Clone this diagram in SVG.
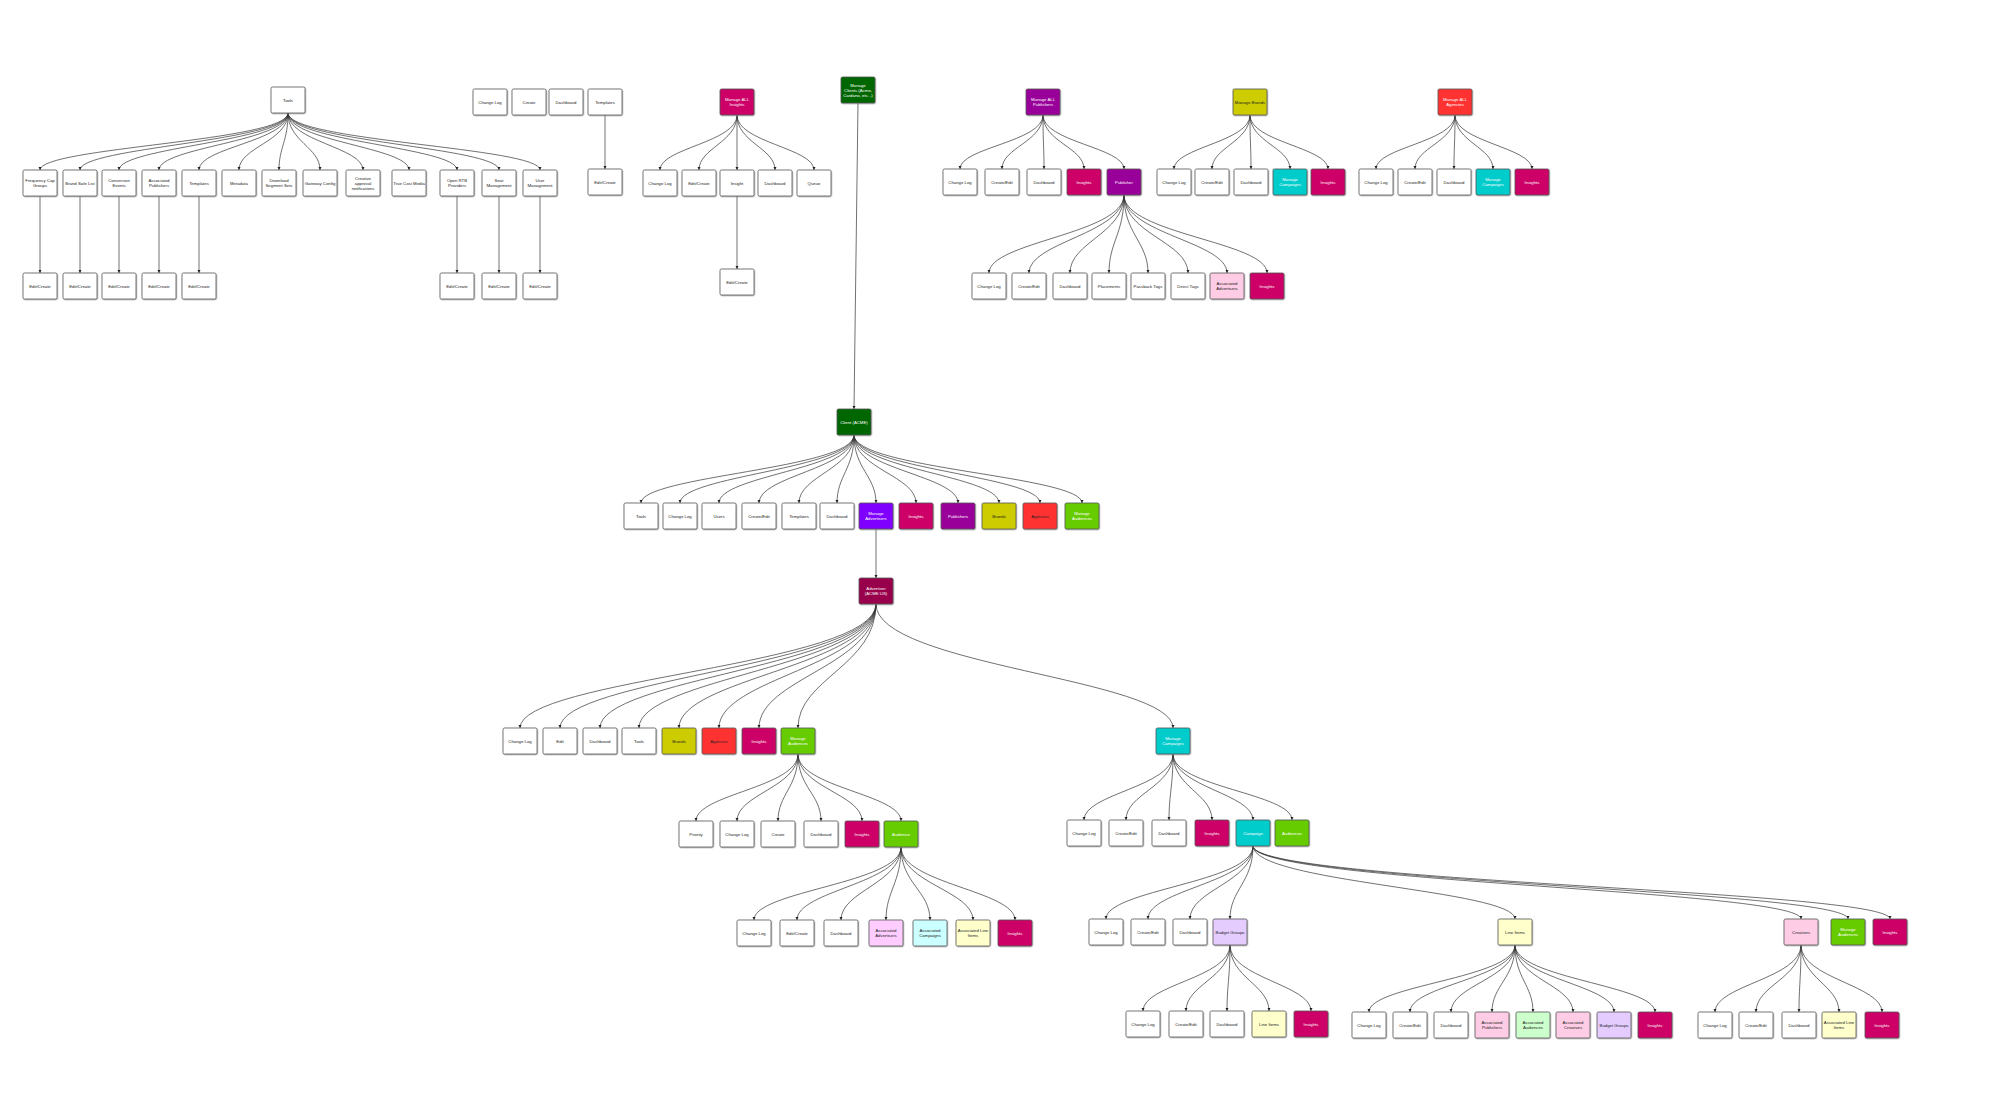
<svg xmlns="http://www.w3.org/2000/svg" width="2000" height="1115" viewBox="0 0 2000 1115">
<defs>
<marker id="ar" viewBox="0 0 6 6" refX="6" refY="3" markerWidth="3.2" markerHeight="3.2" markerUnits="userSpaceOnUse" orient="auto"><path d="M0,0 L6,3 L0,6 z" fill="#222"/></marker>
<filter id="sh" x="-10%" y="-10%" width="130%" height="130%"><feDropShadow dx="0.6" dy="0.8" stdDeviation="0.3" flood-color="#888" flood-opacity="0.7"/></filter>
</defs>
<style>
rect{stroke:#555;stroke-width:0.8;filter:url(#sh)}
.b{fill:#fff}.mag{fill:#cc0066}.pur{fill:#990099}.dg{fill:#006600}.vio{fill:#7f00ff}.mar{fill:#99004c}
.yel{fill:#cccc00}.red{fill:#ff3333}.grn{fill:#66cc00}.cy{fill:#00cccc}
.lpk{fill:#ffcce6}.lpk2{fill:#ffccff}.lcy{fill:#ccffff}.lyl{fill:#ffffcc}.lgr{fill:#ccffcc}.lav{fill:#e5ccff}
text{font-family:"Liberation Sans",Arial,sans-serif;font-size:4.3px;text-anchor:middle;fill:#222}
text.w{fill:#fff}
.e path{fill:none;stroke:#333;stroke-width:0.7;marker-end:url(#ar)}
</style>
<rect x="0" y="0" width="2000" height="1115" fill="#fff" style="stroke:none;filter:none"/>

<g class="e" id="connectors">
<!-- Tools -->
<path d="M288 113 C288 141.5 40 147.2 40 170"/>
<path d="M288 113 C288 141.5 80 147.2 80 170"/>
<path d="M288 113 C288 141.5 119 147.2 119 170"/>
<path d="M288 113 C288 141.5 159 147.2 159 170"/>
<path d="M288 113 C288 141.5 199 147.2 199 170"/>
<path d="M288 113 C288 141.5 239 147.2 239 170"/>
<path d="M288 113 C288 141.5 279 147.2 279 170"/>
<path d="M288 113 C288 141.5 320 147.2 320 170"/>
<path d="M288 113 C288 141.5 363 147.2 363 170"/>
<path d="M288 113 C288 141.5 409 147.2 409 170"/>
<path d="M288 113 C288 141.5 457 147.2 457 170"/>
<path d="M288 113 C288 141.5 499 147.2 499 170"/>
<path d="M288 113 C288 141.5 540 147.2 540 170"/>
<path d="M40 196 L40 273"/>
<path d="M80 196 L80 273"/>
<path d="M119 196 L119 273"/>
<path d="M159 196 L159 273"/>
<path d="M199 196 L199 273"/>
<path d="M457 196 L457 273"/>
<path d="M499 196 L499 273"/>
<path d="M540 196 L540 273"/>
<path d="M605 115 L605 169"/>
<!-- Manage ALL Insights -->
<path d="M737 115 C737 142.5 660 148 660 170"/>
<path d="M737 115 C737 142.5 699 148 699 170"/>
<path d="M737 115 C737 142.5 737 148 737 170"/>
<path d="M737 115 C737 142.5 775 148 775 170"/>
<path d="M737 115 C737 142.5 814 148 814 170"/>
<path d="M737 196 L737 269"/>
<!-- Manage Clients -> Client -->
<path d="M858 103 L854 409"/>
<!-- Manage ALL Publishers -->
<path d="M1043 115 C1043 142 960 147.4 960 169"/>
<path d="M1043 115 C1043 142 1002 147.4 1002 169"/>
<path d="M1043 115 C1043 142 1044 147.4 1044 169"/>
<path d="M1043 115 C1043 142 1084 147.4 1084 169"/>
<path d="M1043 115 C1043 142 1124 147.4 1124 169"/>
<!-- Publisher -->
<path d="M1124 195 C1124 234 989 241.8 989 273"/>
<path d="M1124 195 C1124 234 1029 241.8 1029 273"/>
<path d="M1124 195 C1124 234 1070 241.8 1070 273"/>
<path d="M1124 195 C1124 234 1109 241.8 1109 273"/>
<path d="M1124 195 C1124 234 1148 241.8 1148 273"/>
<path d="M1124 195 C1124 234 1188 241.8 1188 273"/>
<path d="M1124 195 C1124 234 1227 241.8 1227 273"/>
<path d="M1124 195 C1124 234 1267 241.8 1267 273"/>
<!-- Manage Brands -->
<path d="M1250 115 C1250 142 1174 147.4 1174 169"/>
<path d="M1250 115 C1250 142 1212 147.4 1212 169"/>
<path d="M1250 115 C1250 142 1251 147.4 1251 169"/>
<path d="M1250 115 C1250 142 1290 147.4 1290 169"/>
<path d="M1250 115 C1250 142 1328 147.4 1328 169"/>
<!-- Manage ALL Agencies -->
<path d="M1455 115 C1455 142 1376 147.4 1376 169"/>
<path d="M1455 115 C1455 142 1415 147.4 1415 169"/>
<path d="M1455 115 C1455 142 1454 147.4 1454 169"/>
<path d="M1455 115 C1455 142 1493 147.4 1493 169"/>
<path d="M1455 115 C1455 142 1532 147.4 1532 169"/>
<!-- Client -->
<path d="M854 435 C854 469 641 475.8 641 503"/>
<path d="M854 435 C854 469 680 475.8 680 503"/>
<path d="M854 435 C854 469 719 475.8 719 503"/>
<path d="M854 435 C854 469 759 475.8 759 503"/>
<path d="M854 435 C854 469 799 475.8 799 503"/>
<path d="M854 435 C854 469 837 475.8 837 503"/>
<path d="M854 435 C854 469 876 475.8 876 503"/>
<path d="M854 435 C854 469 916 475.8 916 503"/>
<path d="M854 435 C854 469 958 475.8 958 503"/>
<path d="M854 435 C854 469 999 475.8 999 503"/>
<path d="M854 435 C854 469 1040 475.8 1040 503"/>
<path d="M854 435 C854 469 1082 475.8 1082 503"/>
<path d="M876 529 L876 578"/>
<!-- Advertiser -->
<path d="M876 604 C876 666 520 678.4 520 728"/>
<path d="M876 604 C876 666 560 678.4 560 728"/>
<path d="M876 604 C876 666 600 678.4 600 728"/>
<path d="M876 604 C876 666 639 678.4 639 728"/>
<path d="M876 604 C876 666 679 678.4 679 728"/>
<path d="M876 604 C876 666 719 678.4 719 728"/>
<path d="M876 604 C876 666 759 678.4 759 728"/>
<path d="M876 604 C876 666 798 678.4 798 728"/>
<path d="M876 604 C876 666 1173 678.4 1173 728"/>
<!-- Manage Audiences (advertiser) -->
<path d="M798 754 C798 787.5 696 794.2 696 821"/>
<path d="M798 754 C798 787.5 737 794.2 737 821"/>
<path d="M798 754 C798 787.5 778 794.2 778 821"/>
<path d="M798 754 C798 787.5 821 794.2 821 821"/>
<path d="M798 754 C798 787.5 862 794.2 862 821"/>
<path d="M798 754 C798 787.5 901 794.2 901 821"/>
<!-- Audience -->
<path d="M901 847 C901 883.5 754 890.8 754 920"/>
<path d="M901 847 C901 883.5 797 890.8 797 920"/>
<path d="M901 847 C901 883.5 841 890.8 841 920"/>
<path d="M901 847 C901 883.5 886 890.8 886 920"/>
<path d="M901 847 C901 883.5 930 890.8 930 920"/>
<path d="M901 847 C901 883.5 973 890.8 973 920"/>
<path d="M901 847 C901 883.5 1015 890.8 1015 920"/>
<!-- Manage Campaigns (advertiser) -->
<path d="M1173 754 C1173 787 1084 793.6 1084 820"/>
<path d="M1173 754 C1173 787 1126 793.6 1126 820"/>
<path d="M1173 754 C1173 787 1169 793.6 1169 820"/>
<path d="M1173 754 C1173 787 1212 793.6 1212 820"/>
<path d="M1173 754 C1173 787 1253 793.6 1253 820"/>
<path d="M1173 754 C1173 787 1292 793.6 1292 820"/>
<!-- Campaign -->
<path d="M1253 846 C1253 882.5 1106 889.8 1106 919"/>
<path d="M1253 846 C1253 882.5 1148 889.8 1148 919"/>
<path d="M1253 846 C1253 882.5 1190 889.8 1190 919"/>
<path d="M1253 846 C1253 882.5 1230 889.8 1230 919"/>
<path d="M1253 846 C1253 882.5 1515 889.8 1515 919"/>
<path d="M1253 846 C1253 882.5 1801 889.8 1801 919"/>
<path d="M1253 846 C1253 882.5 1848 889.8 1848 919"/>
<path d="M1253 846 C1253 882.5 1890 889.8 1890 919"/>
<!-- Budget Groups -->
<path d="M1230 945 C1230 978 1143 984.6 1143 1011"/>
<path d="M1230 945 C1230 978 1186 984.6 1186 1011"/>
<path d="M1230 945 C1230 978 1227 984.6 1227 1011"/>
<path d="M1230 945 C1230 978 1269 984.6 1269 1011"/>
<path d="M1230 945 C1230 978 1311 984.6 1311 1011"/>
<!-- Line Items -->
<path d="M1515 945 C1515 978.5 1369 985.2 1369 1012"/>
<path d="M1515 945 C1515 978.5 1410 985.2 1410 1012"/>
<path d="M1515 945 C1515 978.5 1451 985.2 1451 1012"/>
<path d="M1515 945 C1515 978.5 1492 985.2 1492 1012"/>
<path d="M1515 945 C1515 978.5 1533 985.2 1533 1012"/>
<path d="M1515 945 C1515 978.5 1573 985.2 1573 1012"/>
<path d="M1515 945 C1515 978.5 1614 985.2 1614 1012"/>
<path d="M1515 945 C1515 978.5 1655 985.2 1655 1012"/>
<!-- Creatives -->
<path d="M1801 945 C1801 978.5 1715 985.2 1715 1012"/>
<path d="M1801 945 C1801 978.5 1756 985.2 1756 1012"/>
<path d="M1801 945 C1801 978.5 1799 985.2 1799 1012"/>
<path d="M1801 945 C1801 978.5 1839 985.2 1839 1012"/>
<path d="M1801 945 C1801 978.5 1882 985.2 1882 1012"/>
</g>

<!-- ===== Tools tree ===== -->
<g id="n-tools"><rect class="b" x="271" y="87" width="34" height="26" rx="1.5"/><text x="288" y="101.5">Tools</text></g>
<g id="n-freq"><rect class="b" x="23" y="170" width="34" height="26" rx="1.5"/><text x="40" y="183"><tspan x="40" dy="-1">Frequency Cap</tspan><tspan x="40" dy="5">Groups</tspan></text></g>
<g id="n-brandsafe"><rect class="b" x="63" y="170" width="34" height="26" rx="1.5"/><text x="80" y="184.5">Brand Safe List</text></g>
<g id="n-conv"><rect class="b" x="102" y="170" width="34" height="26" rx="1.5"/><text x="119" y="183"><tspan x="119" dy="-1">Conversion</tspan><tspan x="119" dy="5">Events</tspan></text></g>
<g id="n-assocpub"><rect class="b" x="142" y="170" width="34" height="26" rx="1.5"/><text x="159" y="183"><tspan x="159" dy="-1">Associated</tspan><tspan x="159" dy="5">Publishers</tspan></text></g>
<g id="n-templ"><rect class="b" x="182" y="170" width="34" height="26" rx="1.5"/><text x="199" y="184.5">Templates</text></g>
<g id="n-meta"><rect class="b" x="222" y="170" width="34" height="26" rx="1.5"/><text x="239" y="184.5">Metadata</text></g>
<g id="n-dss"><rect class="b" x="262" y="170" width="34" height="26" rx="1.5"/><text x="279" y="183"><tspan x="279" dy="-1">Download</tspan><tspan x="279" dy="5">Segment Sets</tspan></text></g>
<g id="n-gw"><rect class="b" x="303" y="170" width="34" height="26" rx="1.5"/><text x="320" y="184.5">Gateway Config</text></g>
<g id="n-cran"><rect class="b" x="346" y="170" width="34" height="26" rx="1.5"/><text x="363" y="183"><tspan x="363" dy="-3.5">Creative</tspan><tspan x="363" dy="5">approval</tspan><tspan x="363" dy="5">notifications</tspan></text></g>
<g id="n-tcm"><rect class="b" x="392" y="170" width="34" height="26" rx="1.5"/><text x="409" y="184.5">True Cost Media</text></g>
<g id="n-ortb"><rect class="b" x="440" y="170" width="34" height="26" rx="1.5"/><text x="457" y="183"><tspan x="457" dy="-1">Open RTB</tspan><tspan x="457" dy="5">Providers</tspan></text></g>
<g id="n-seat"><rect class="b" x="482" y="170" width="34" height="26" rx="1.5"/><text x="499" y="183"><tspan x="499" dy="-1">Seat</tspan><tspan x="499" dy="5">Management</tspan></text></g>
<g id="n-user"><rect class="b" x="523" y="170" width="34" height="26" rx="1.5"/><text x="540" y="183"><tspan x="540" dy="-1">User</tspan><tspan x="540" dy="5">Management</tspan></text></g>
<g id="n-freq-ec"><rect class="b" x="23" y="273" width="34" height="26" rx="1.5"/><text x="40" y="287.5">Edit/Create</text></g>
<g id="n-brandsafe-ec"><rect class="b" x="63" y="273" width="34" height="26" rx="1.5"/><text x="80" y="287.5">Edit/Create</text></g>
<g id="n-conv-ec"><rect class="b" x="102" y="273" width="34" height="26" rx="1.5"/><text x="119" y="287.5">Edit/Create</text></g>
<g id="n-assocpub-ec"><rect class="b" x="142" y="273" width="34" height="26" rx="1.5"/><text x="159" y="287.5">Edit/Create</text></g>
<g id="n-templ-ec"><rect class="b" x="182" y="273" width="34" height="26" rx="1.5"/><text x="199" y="287.5">Edit/Create</text></g>
<g id="n-ortb-ec"><rect class="b" x="440" y="273" width="34" height="26" rx="1.5"/><text x="457" y="287.5">Edit/Create</text></g>
<g id="n-seat-ec"><rect class="b" x="482" y="273" width="34" height="26" rx="1.5"/><text x="499" y="287.5">Edit/Create</text></g>
<g id="n-user-ec"><rect class="b" x="523" y="273" width="34" height="26" rx="1.5"/><text x="540" y="287.5">Edit/Create</text></g>

<!-- ===== standalone top ===== -->
<g id="n-top-cl"><rect class="b" x="473" y="89" width="34" height="26" rx="1.5"/><text x="490" y="103.5">Change Log</text></g>
<g id="n-top-create"><rect class="b" x="512" y="89" width="34" height="26" rx="1.5"/><text x="529" y="103.5">Create</text></g>
<g id="n-top-dash"><rect class="b" x="549" y="89" width="34" height="26" rx="1.5"/><text x="566" y="103.5">Dashboard</text></g>
<g id="n-top-templates"><rect class="b" x="588" y="89" width="34" height="26" rx="1.5"/><text x="605" y="103.5">Templates</text></g>
<g id="n-top-templates-ec"><rect class="b" x="588" y="169" width="34" height="26" rx="1.5"/><text x="605" y="183.5">Edit/Create</text></g>

<!-- ===== Manage ALL Insights ===== -->
<g id="n-mai"><rect class="mag" x="720" y="89" width="34" height="26" rx="1.5"/><text class="w" x="737" y="102"><tspan x="737" dy="-1">Manage ALL</tspan><tspan x="737" dy="5">Insights</tspan></text></g>
<g id="n-mai-cl"><rect class="b" x="643" y="170" width="34" height="26" rx="1.5"/><text x="660" y="184.5">Change Log</text></g>
<g id="n-mai-ec"><rect class="b" x="682" y="170" width="34" height="26" rx="1.5"/><text x="699" y="184.5">Edit/Create</text></g>
<g id="n-mai-insight"><rect class="b" x="720" y="170" width="34" height="26" rx="1.5"/><text x="737" y="184.5">Insight</text></g>
<g id="n-mai-dash"><rect class="b" x="758" y="170" width="34" height="26" rx="1.5"/><text x="775" y="184.5">Dashboard</text></g>
<g id="n-mai-queue"><rect class="b" x="797" y="170" width="34" height="26" rx="1.5"/><text x="814" y="184.5">Queue</text></g>
<g id="n-mai-insight-ec"><rect class="b" x="720" y="269" width="34" height="26" rx="1.5"/><text x="737" y="283.5">Edit/Create</text></g>

<!-- ===== Manage Clients ===== -->
<g id="n-mclients"><rect class="dg" x="841" y="77" width="34" height="26" rx="1.5"/><text class="w" x="858" y="90"><tspan x="858" dy="-3.5">Manage</tspan><tspan x="858" dy="5">Clients (Acme,</tspan><tspan x="858" dy="5">Cardano, etc...)</tspan></text></g>

<!-- ===== Manage ALL Publishers ===== -->
<g id="n-map"><rect class="pur" x="1026" y="89" width="34" height="26" rx="1.5"/><text class="w" x="1043" y="102"><tspan x="1043" dy="-1">Manage ALL</tspan><tspan x="1043" dy="5">Publishers</tspan></text></g>
<g id="n-map-cl"><rect class="b" x="943" y="169" width="34" height="26" rx="1.5"/><text x="960" y="183.5">Change Log</text></g>
<g id="n-map-ce"><rect class="b" x="985" y="169" width="34" height="26" rx="1.5"/><text x="1002" y="183.5">Create/Edit</text></g>
<g id="n-map-dash"><rect class="b" x="1027" y="169" width="34" height="26" rx="1.5"/><text x="1044" y="183.5">Dashboard</text></g>
<g id="n-map-ins"><rect class="mag" x="1067" y="169" width="34" height="26" rx="1.5"/><text class="w" x="1084" y="183.5">Insights</text></g>
<g id="n-publisher"><rect class="pur" x="1107" y="169" width="34" height="26" rx="1.5"/><text class="w" x="1124" y="183.5">Publisher</text></g>
<g id="n-pub-cl"><rect class="b" x="972" y="273" width="34" height="26" rx="1.5"/><text x="989" y="287.5">Change Log</text></g>
<g id="n-pub-ce"><rect class="b" x="1012" y="273" width="34" height="26" rx="1.5"/><text x="1029" y="287.5">Create/Edit</text></g>
<g id="n-pub-dash"><rect class="b" x="1053" y="273" width="34" height="26" rx="1.5"/><text x="1070" y="287.5">Dashboard</text></g>
<g id="n-pub-plac"><rect class="b" x="1092" y="273" width="34" height="26" rx="1.5"/><text x="1109" y="287.5">Placements</text></g>
<g id="n-pub-pass"><rect class="b" x="1131" y="273" width="34" height="26" rx="1.5"/><text x="1148" y="287.5">Passback Tags</text></g>
<g id="n-pub-direct"><rect class="b" x="1171" y="273" width="34" height="26" rx="1.5"/><text x="1188" y="287.5">Direct Tags</text></g>
<g id="n-pub-assocadv"><rect class="lpk" x="1210" y="273" width="34" height="26" rx="1.5"/><text x="1227" y="286"><tspan x="1227" dy="-1">Associated</tspan><tspan x="1227" dy="5">Advertisers</tspan></text></g>
<g id="n-pub-ins"><rect class="mag" x="1250" y="273" width="34" height="26" rx="1.5"/><text class="w" x="1267" y="287.5">Insights</text></g>

<!-- ===== Manage Brands ===== -->
<g id="n-mb"><rect class="yel" x="1233" y="89" width="34" height="26" rx="1.5"/><text x="1250" y="103.5">Manage Brands</text></g>
<g id="n-mb-cl"><rect class="b" x="1157" y="169" width="34" height="26" rx="1.5"/><text x="1174" y="183.5">Change Log</text></g>
<g id="n-mb-ce"><rect class="b" x="1195" y="169" width="34" height="26" rx="1.5"/><text x="1212" y="183.5">Create/Edit</text></g>
<g id="n-mb-dash"><rect class="b" x="1234" y="169" width="34" height="26" rx="1.5"/><text x="1251" y="183.5">Dashboard</text></g>
<g id="n-mb-mc"><rect class="cy" x="1273" y="169" width="34" height="26" rx="1.5"/><text class="w" x="1290" y="182"><tspan x="1290" dy="-1">Manage</tspan><tspan x="1290" dy="5">Campaigns</tspan></text></g>
<g id="n-mb-ins"><rect class="mag" x="1311" y="169" width="34" height="26" rx="1.5"/><text class="w" x="1328" y="183.5">Insights</text></g>

<!-- ===== Manage ALL Agencies ===== -->
<g id="n-maa"><rect class="red" x="1438" y="89" width="34" height="26" rx="1.5"/><text class="w" x="1455" y="102"><tspan x="1455" dy="-1">Manage ALL</tspan><tspan x="1455" dy="5">Agencies</tspan></text></g>
<g id="n-maa-cl"><rect class="b" x="1359" y="169" width="34" height="26" rx="1.5"/><text x="1376" y="183.5">Change Log</text></g>
<g id="n-maa-ce"><rect class="b" x="1398" y="169" width="34" height="26" rx="1.5"/><text x="1415" y="183.5">Create/Edit</text></g>
<g id="n-maa-dash"><rect class="b" x="1437" y="169" width="34" height="26" rx="1.5"/><text x="1454" y="183.5">Dashboard</text></g>
<g id="n-maa-mc"><rect class="cy" x="1476" y="169" width="34" height="26" rx="1.5"/><text class="w" x="1493" y="182"><tspan x="1493" dy="-1">Manage</tspan><tspan x="1493" dy="5">Campaigns</tspan></text></g>
<g id="n-maa-ins"><rect class="mag" x="1515" y="169" width="34" height="26" rx="1.5"/><text class="w" x="1532" y="183.5">Insights</text></g>

<!-- ===== Client ===== -->
<g id="n-client"><rect class="dg" x="837" y="409" width="34" height="26" rx="1.5"/><text class="w" x="854" y="423.5">Client (ACME)</text></g>
<g id="n-cl-tools"><rect class="b" x="624" y="503" width="34" height="26" rx="1.5"/><text x="641" y="517.5">Tools</text></g>
<g id="n-cl-cl"><rect class="b" x="663" y="503" width="34" height="26" rx="1.5"/><text x="680" y="517.5">Change Log</text></g>
<g id="n-cl-users"><rect class="b" x="702" y="503" width="34" height="26" rx="1.5"/><text x="719" y="517.5">Users</text></g>
<g id="n-cl-ce"><rect class="b" x="742" y="503" width="34" height="26" rx="1.5"/><text x="759" y="517.5">Create/Edit</text></g>
<g id="n-cl-templ"><rect class="b" x="782" y="503" width="34" height="26" rx="1.5"/><text x="799" y="517.5">Templates</text></g>
<g id="n-cl-dash"><rect class="b" x="820" y="503" width="34" height="26" rx="1.5"/><text x="837" y="517.5">Dashboard</text></g>
<g id="n-cl-madv"><rect class="vio" x="859" y="503" width="34" height="26" rx="1.5"/><text class="w" x="876" y="516"><tspan x="876" dy="-1">Manage</tspan><tspan x="876" dy="5">Advertisers</tspan></text></g>
<g id="n-cl-ins"><rect class="mag" x="899" y="503" width="34" height="26" rx="1.5"/><text class="w" x="916" y="517.5">Insights</text></g>
<g id="n-cl-pubs"><rect class="pur" x="941" y="503" width="34" height="26" rx="1.5"/><text class="w" x="958" y="517.5">Publishers</text></g>
<g id="n-cl-brands"><rect class="yel" x="982" y="503" width="34" height="26" rx="1.5"/><text x="999" y="517.5">Brands</text></g>
<g id="n-cl-agencies"><rect class="red" x="1023" y="503" width="34" height="26" rx="1.5"/><text x="1040" y="517.5">Agencies</text></g>
<g id="n-cl-maud"><rect class="grn" x="1065" y="503" width="34" height="26" rx="1.5"/><text class="w" x="1082" y="516"><tspan x="1082" dy="-1">Manage</tspan><tspan x="1082" dy="5">Audiences</tspan></text></g>

<!-- ===== Advertiser ===== -->
<g id="n-adv"><rect class="mar" x="859" y="578" width="34" height="26" rx="1.5"/><text class="w" x="876" y="591"><tspan x="876" dy="-1">Advertiser</tspan><tspan x="876" dy="5">(ACME US)</tspan></text></g>
<g id="n-adv-cl"><rect class="b" x="503" y="728" width="34" height="26" rx="1.5"/><text x="520" y="742.5">Change Log</text></g>
<g id="n-adv-edit"><rect class="b" x="543" y="728" width="34" height="26" rx="1.5"/><text x="560" y="742.5">Edit</text></g>
<g id="n-adv-dash"><rect class="b" x="583" y="728" width="34" height="26" rx="1.5"/><text x="600" y="742.5">Dashboard</text></g>
<g id="n-adv-tools"><rect class="b" x="622" y="728" width="34" height="26" rx="1.5"/><text x="639" y="742.5">Tools</text></g>
<g id="n-adv-brands"><rect class="yel" x="662" y="728" width="34" height="26" rx="1.5"/><text x="679" y="742.5">Brands</text></g>
<g id="n-adv-agencies"><rect class="red" x="702" y="728" width="34" height="26" rx="1.5"/><text x="719" y="742.5">Agencies</text></g>
<g id="n-adv-ins"><rect class="mag" x="742" y="728" width="34" height="26" rx="1.5"/><text class="w" x="759" y="742.5">Insights</text></g>
<g id="n-adv-maud"><rect class="grn" x="781" y="728" width="34" height="26" rx="1.5"/><text class="w" x="798" y="741"><tspan x="798" dy="-1">Manage</tspan><tspan x="798" dy="5">Audiences</tspan></text></g>
<g id="n-adv-mc"><rect class="cy" x="1156" y="728" width="34" height="26" rx="1.5"/><text class="w" x="1173" y="741"><tspan x="1173" dy="-1">Manage</tspan><tspan x="1173" dy="5">Campaigns</tspan></text></g>

<!-- Manage Audiences children -->
<g id="n-ma-priority"><rect class="b" x="679" y="821" width="34" height="26" rx="1.5"/><text x="696" y="835.5">Priority</text></g>
<g id="n-ma-cl"><rect class="b" x="720" y="821" width="34" height="26" rx="1.5"/><text x="737" y="835.5">Change Log</text></g>
<g id="n-ma-create"><rect class="b" x="761" y="821" width="34" height="26" rx="1.5"/><text x="778" y="835.5">Create</text></g>
<g id="n-ma-dash"><rect class="b" x="804" y="821" width="34" height="26" rx="1.5"/><text x="821" y="835.5">Dashboard</text></g>
<g id="n-ma-ins"><rect class="mag" x="845" y="821" width="34" height="26" rx="1.5"/><text class="w" x="862" y="835.5">Insights</text></g>
<g id="n-audience"><rect class="grn" x="884" y="821" width="34" height="26" rx="1.5"/><text class="w" x="901" y="835.5">Audience</text></g>

<!-- Audience children -->
<g id="n-au-cl"><rect class="b" x="737" y="920" width="34" height="26" rx="1.5"/><text x="754" y="934.5">Change Log</text></g>
<g id="n-au-ec"><rect class="b" x="780" y="920" width="34" height="26" rx="1.5"/><text x="797" y="934.5">Edit/Create</text></g>
<g id="n-au-dash"><rect class="b" x="824" y="920" width="34" height="26" rx="1.5"/><text x="841" y="934.5">Dashboard</text></g>
<g id="n-au-aadv"><rect class="lpk2" x="869" y="920" width="34" height="26" rx="1.5"/><text x="886" y="933"><tspan x="886" dy="-1">Associated</tspan><tspan x="886" dy="5">Advertisers</tspan></text></g>
<g id="n-au-acmp"><rect class="lcy" x="913" y="920" width="34" height="26" rx="1.5"/><text x="930" y="933"><tspan x="930" dy="-1">Associated</tspan><tspan x="930" dy="5">Campaigns</tspan></text></g>
<g id="n-au-ali"><rect class="lyl" x="956" y="920" width="34" height="26" rx="1.5"/><text x="973" y="933"><tspan x="973" dy="-1">Associated Line</tspan><tspan x="973" dy="5">Items</tspan></text></g>
<g id="n-au-ins"><rect class="mag" x="998" y="920" width="34" height="26" rx="1.5"/><text class="w" x="1015" y="934.5">Insights</text></g>

<!-- Manage Campaigns children -->
<g id="n-mc-cl"><rect class="b" x="1067" y="820" width="34" height="26" rx="1.5"/><text x="1084" y="834.5">Change Log</text></g>
<g id="n-mc-ce"><rect class="b" x="1109" y="820" width="34" height="26" rx="1.5"/><text x="1126" y="834.5">Create/Edit</text></g>
<g id="n-mc-dash"><rect class="b" x="1152" y="820" width="34" height="26" rx="1.5"/><text x="1169" y="834.5">Dashboard</text></g>
<g id="n-mc-ins"><rect class="mag" x="1195" y="820" width="34" height="26" rx="1.5"/><text class="w" x="1212" y="834.5">Insights</text></g>
<g id="n-campaign"><rect class="cy" x="1236" y="820" width="34" height="26" rx="1.5"/><text class="w" x="1253" y="834.5">Campaign</text></g>
<g id="n-mc-aud"><rect class="grn" x="1275" y="820" width="34" height="26" rx="1.5"/><text class="w" x="1292" y="834.5">Audiences</text></g>

<!-- Campaign children -->
<g id="n-cp-cl"><rect class="b" x="1089" y="919" width="34" height="26" rx="1.5"/><text x="1106" y="933.5">Change Log</text></g>
<g id="n-cp-ce"><rect class="b" x="1131" y="919" width="34" height="26" rx="1.5"/><text x="1148" y="933.5">Create/Edit</text></g>
<g id="n-cp-dash"><rect class="b" x="1173" y="919" width="34" height="26" rx="1.5"/><text x="1190" y="933.5">Dashboard</text></g>
<g id="n-budget"><rect class="lav" x="1213" y="919" width="34" height="26" rx="1.5"/><text x="1230" y="933.5">Budget Groups</text></g>
<g id="n-lineitems"><rect class="lyl" x="1498" y="919" width="34" height="26" rx="1.5"/><text x="1515" y="933.5">Line Items</text></g>
<g id="n-creatives"><rect class="lpk" x="1784" y="919" width="34" height="26" rx="1.5"/><text x="1801" y="933.5">Creatives</text></g>
<g id="n-cp-maud"><rect class="grn" x="1831" y="919" width="34" height="26" rx="1.5"/><text class="w" x="1848" y="932"><tspan x="1848" dy="-1">Manage</tspan><tspan x="1848" dy="5">Audiences</tspan></text></g>
<g id="n-cp-ins"><rect class="mag" x="1873" y="919" width="34" height="26" rx="1.5"/><text class="w" x="1890" y="933.5">Insights</text></g>

<!-- Budget Groups children -->
<g id="n-bg-cl"><rect class="b" x="1126" y="1011" width="34" height="26" rx="1.5"/><text x="1143" y="1025.5">Change Log</text></g>
<g id="n-bg-ce"><rect class="b" x="1169" y="1011" width="34" height="26" rx="1.5"/><text x="1186" y="1025.5">Create/Edit</text></g>
<g id="n-bg-dash"><rect class="b" x="1210" y="1011" width="34" height="26" rx="1.5"/><text x="1227" y="1025.5">Dashboard</text></g>
<g id="n-bg-li"><rect class="lyl" x="1252" y="1011" width="34" height="26" rx="1.5"/><text x="1269" y="1025.5">Line Items</text></g>
<g id="n-bg-ins"><rect class="mag" x="1294" y="1011" width="34" height="26" rx="1.5"/><text class="w" x="1311" y="1025.5">Insights</text></g>

<!-- Line Items children -->
<g id="n-li-cl"><rect class="b" x="1352" y="1012" width="34" height="26" rx="1.5"/><text x="1369" y="1026.5">Change Log</text></g>
<g id="n-li-ce"><rect class="b" x="1393" y="1012" width="34" height="26" rx="1.5"/><text x="1410" y="1026.5">Create/Edit</text></g>
<g id="n-li-dash"><rect class="b" x="1434" y="1012" width="34" height="26" rx="1.5"/><text x="1451" y="1026.5">Dashboard</text></g>
<g id="n-li-apub"><rect class="lpk" x="1475" y="1012" width="34" height="26" rx="1.5"/><text x="1492" y="1025"><tspan x="1492" dy="-1">Associated</tspan><tspan x="1492" dy="5">Publishers</tspan></text></g>
<g id="n-li-aaud"><rect class="lgr" x="1516" y="1012" width="34" height="26" rx="1.5"/><text x="1533" y="1025"><tspan x="1533" dy="-1">Associated</tspan><tspan x="1533" dy="5">Audiences</tspan></text></g>
<g id="n-li-acre"><rect class="lpk" x="1556" y="1012" width="34" height="26" rx="1.5"/><text x="1573" y="1025"><tspan x="1573" dy="-1">Associated</tspan><tspan x="1573" dy="5">Creatives</tspan></text></g>
<g id="n-li-bg"><rect class="lav" x="1597" y="1012" width="34" height="26" rx="1.5"/><text x="1614" y="1026.5">Budget Groups</text></g>
<g id="n-li-ins"><rect class="mag" x="1638" y="1012" width="34" height="26" rx="1.5"/><text class="w" x="1655" y="1026.5">Insights</text></g>

<!-- Creatives children -->
<g id="n-cr-cl"><rect class="b" x="1698" y="1012" width="34" height="26" rx="1.5"/><text x="1715" y="1026.5">Change Log</text></g>
<g id="n-cr-ce"><rect class="b" x="1739" y="1012" width="34" height="26" rx="1.5"/><text x="1756" y="1026.5">Create/Edit</text></g>
<g id="n-cr-dash"><rect class="b" x="1782" y="1012" width="34" height="26" rx="1.5"/><text x="1799" y="1026.5">Dashboard</text></g>
<g id="n-cr-ali"><rect class="lyl" x="1822" y="1012" width="34" height="26" rx="1.5"/><text x="1839" y="1025"><tspan x="1839" dy="-1">Associated Line</tspan><tspan x="1839" dy="5">Items</tspan></text></g>
<g id="n-cr-ins"><rect class="mag" x="1865" y="1012" width="34" height="26" rx="1.5"/><text class="w" x="1882" y="1026.5">Insights</text></g>
</svg>
